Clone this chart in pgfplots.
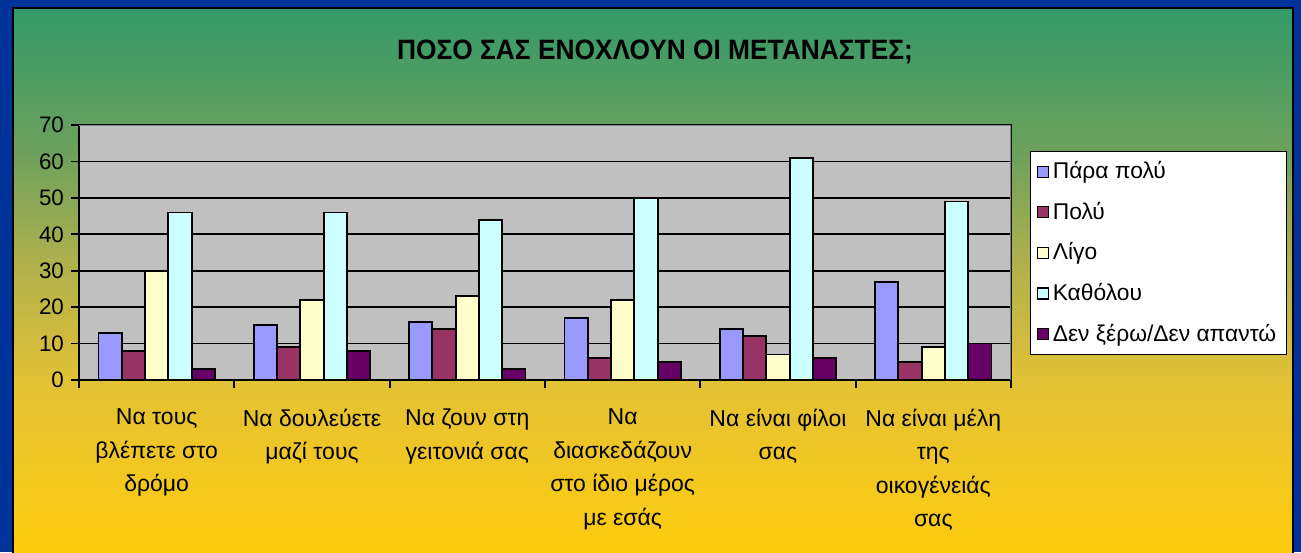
\documentclass[border=0pt]{standalone}
\usepackage{fontspec}
\setmainfont{Liberation Sans}
\usepackage{pgfplots}
\pgfplotsset{compat=1.18}

\definecolor{slideblue}{RGB}{0,51,153}
\definecolor{plotgray}{RGB}{192,192,192}
\definecolor{bordergray}{RGB}{128,128,128}
\definecolor{c1}{RGB}{153,153,255}
\definecolor{c2}{RGB}{153,51,102}
\definecolor{c3}{RGB}{255,255,204}
\definecolor{c4}{RGB}{204,255,255}
\definecolor{c5}{RGB}{102,0,102}

% green at the top of the slide, yellow at the bottom
\pgfdeclareverticalshading{slidegrad}{100bp}{
  rgb(0bp)=(1,0.8,0.05);
  rgb(25bp)=(1,0.8,0.05);
  rgb(40.8bp)=(0.89,0.76,0.21);
  rgb(52bp)=(0.68,0.69,0.30);
  rgb(62bp)=(0.42,0.63,0.36);
  rgb(75bp)=(0.2,0.6,0.41);
  rgb(100bp)=(0.2,0.6,0.41)}

\pgfplotsset{
  legbox/.style={legend image code/.code={
      \draw[##1, line width=0.6pt] (0pt,-2.75pt) rectangle (5.5pt,2.75pt);}},
}

\begin{document}
\begin{tikzpicture}[x=0.5pt, y=0.5pt]
  \useasboundingbox (0,0) rectangle (1301,552);
  \fill[slideblue] (0,0) rectangle (1301,552);
  \shade[shading=slidegrad] (13,-4) rectangle (1293,544);
  \draw[black, line width=1.2pt] (13,-4) -- (13,544) -- (1293,544) -- (1293,-4);

  \node at (655,500) {\scalebox{0.94}[1]{\fontsize{14}{16}\selectfont\bfseries ΠΟΣΟ ΣΑΣ ΕΝΟΧΛΟΥΝ ΟΙ ΜΕΤΑΝΑΣΤΕΣ;}};

  \begin{axis}[
    at={(39.5pt,86pt)}, anchor=south west,
    scale only axis, width=466pt, height=127.5pt,
    xmin=-0.5, xmax=5.5, ymin=0, ymax=70,
    ybar=0pt, bar width=11.65pt,
    axis background/.style={fill=plotgray},
    axis line style={black, line width=0.9pt},
    tick pos=left, tick align=outside, major tick length=4pt,
    tick style={black, line width=0.9pt},
    ytick={0,10,...,70},
    ymajorgrids, grid style={black, line width=0.9pt},
    xtick={-0.5,0.5,...,5.5}, xticklabels={},
    extra x ticks={0,1,2,3,4,5},
    extra x tick labels={{Να τους\\βλέπετε στο\\δρόμο},
      {Να δουλεύετε\\μαζί τους},
      {Να ζουν στη\\γειτονιά σας},
      {Να\\διασκεδάζουν\\στο ίδιο μέρος\\με εσάς},
      {Να είναι φίλοι\\σας},
      {Να είναι μέλη\\της\\οικογένειάς\\σας}},
    extra x tick style={major tick length=0pt},
    xticklabel style={align=center, anchor=north, yshift=-11pt,
      font=\fontsize{11.5}{16.75}\selectfont},
    yticklabel style={font=\fontsize{11.2}{13}\selectfont},
    /pgf/number format/assume math mode=true,
    legend style={at={(1.0204,0.898)}, anchor=north west, draw=black,
      fill=white, line width=0.6pt, font=\fontsize{11.4}{13.6}\selectfont,
      row sep=6.2pt, inner sep=3pt},
    legend cell align=left,
  ]
    \addplot[fill=c1, draw=black, line width=0.9pt, legbox] coordinates {(0,13) (1,15) (2,16) (3,17) (4,14) (5,27)};
    \addplot[fill=c2, draw=black, line width=0.9pt, legbox] coordinates {(0,8) (1,9) (2,14) (3,6) (4,12) (5,5)};
    \addplot[fill=c3, draw=black, line width=0.9pt, legbox] coordinates {(0,30) (1,22) (2,23) (3,22) (4,7) (5,9)};
    \addplot[fill=c4, draw=black, line width=0.9pt, legbox] coordinates {(0,46) (1,46) (2,44) (3,50) (4,61) (5,49)};
    \addplot[fill=c5, draw=black, line width=0.9pt, legbox] coordinates {(0,3) (1,8) (2,3) (3,5) (4,6) (5,10)};
    \legend{Πάρα πολύ, Πολύ, Λίγο, Καθόλου, Δεν ξέρω/Δεν απαντώ}
    % plot area border is grey at the top and right
    \draw[bordergray, line width=1pt] (rel axis cs:0,1) -- (rel axis cs:1,1) -- (rel axis cs:1,0);
  \end{axis}
\end{tikzpicture}
\end{document}
